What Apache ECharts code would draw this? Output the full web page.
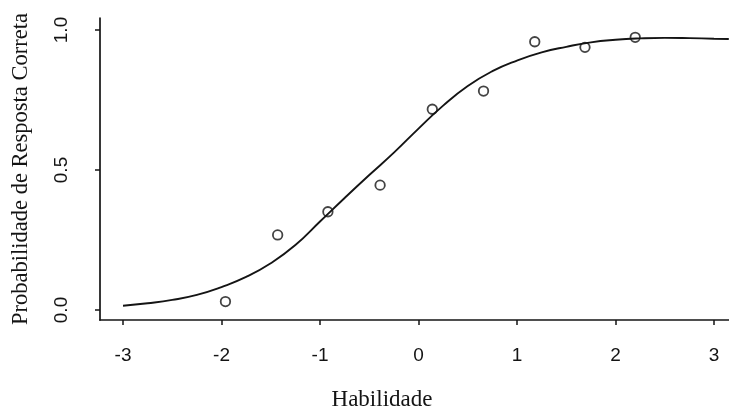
<!DOCTYPE html>
<html>
<head>
<meta charset="utf-8">
<script src="https://cdn.jsdelivr.net/npm/echarts@6/dist/echarts.min.js"></script>
<style>
html,body{margin:0;padding:0;background:#fff;}
#chart{width:729px;height:410px;}
</style>
</head>
<body>
<div id="chart"></div>
<script>
// Observed proportions (ability, proportion correct)
var obsX = [-1.96, -1.43, -0.92, -0.39, 0.14, 0.66, 1.18, 1.69, 2.20];
var obsY = [0.030, 0.268, 0.351, 0.446, 0.717, 0.782, 0.958, 0.938, 0.974];

// Fitted curve
var curveX = [-3.0, -2.75, -2.5, -2.25, -2.0, -1.75, -1.5, -1.25, -1.0, -0.75, -0.5, -0.25, 0.0, 0.25, 0.5, 0.75, 1.0, 1.25, 1.5, 1.75, 2.0, 2.25, 2.5, 2.75, 3.0, 3.15];
var curveY = [0.015, 0.024, 0.036, 0.054, 0.082, 0.118, 0.167, 0.232, 0.316, 0.400, 0.482, 0.562, 0.648, 0.730, 0.800, 0.853, 0.891, 0.920, 0.940, 0.956, 0.965, 0.970, 0.972, 0.971, 0.969, 0.968];

// Tick labels
var xTicks = [-3, -2, -1, 0, 1, 2, 3];
var yTicks = [0, 0.5, 1.0];

var xTitle = 'Habilidade';
var yTitle = 'Probabilidade de Resposta Correta';

var chart = echarts.init(document.getElementById('chart'), null, {renderer: 'canvas'});

var curveData = curveX.map(function (x, i) { return [x, curveY[i]]; });
var obsData = obsX.map(function (x, i) { return [x, obsY[i]]; });

var ink = '#141414';

chart.setOption({
  animation: false,
  backgroundColor: '#ffffff',
  grid: {left: 100, right: 0, top: 18, bottom: 90, containLabel: false, outerBoundsMode: 'none'},
  xAxis: {
    type: 'value',
    min: -3.2335,
    max: 3.152,
    name: xTitle,
    nameLocation: 'middle',
    nameGap: 68,
    nameTextStyle: {fontFamily: 'Liberation Serif', fontSize: 23, color: ink, padding: [0, 65, 0, 0]},
    axisLine: {show: true, onZero: false, lineStyle: {color: ink, width: 1.7}},
    axisTick: {show: true, length: 5, inside: false, customValues: xTicks, lineStyle: {color: ink, width: 1.5}},
    axisLabel: {show: true, customValues: xTicks, margin: 26, fontFamily: 'Liberation Sans', fontSize: 19, color: ink,
      formatter: function (v) { return String(v); }},
    splitLine: {show: false}
  },
  yAxis: {
    type: 'value',
    min: -0.0357,
    max: 1.0429,
    name: yTitle,
    nameLocation: 'middle',
    nameRotate: 90,
    nameGap: 67,
    nameTextStyle: {fontFamily: 'Liberation Serif', fontSize: 22.5, color: ink},
    axisLine: {show: true, onZero: false, lineStyle: {color: ink, width: 1.7}},
    axisTick: {show: true, length: 5, inside: false, customValues: yTicks, lineStyle: {color: ink, width: 1.5}},
    axisLabel: {show: true, customValues: yTicks, rotate: 90, margin: 29, fontFamily: 'Liberation Sans', fontSize: 19, color: ink,
      formatter: function (v) { return v.toFixed(1); }},
    splitLine: {show: false}
  },
  series: [
    {
      type: 'line',
      data: curveData,
      smooth: 0.5,
      showSymbol: false,
      symbol: 'none',
      lineStyle: {color: ink, width: 1.9},
      z: 2
    },
    {
      type: 'scatter',
      data: obsData,
      symbol: 'circle',
      symbolSize: 9.5,
      itemStyle: {color: 'rgba(255,255,255,0)', borderColor: ink, borderWidth: 1.8},
      z: 3
    }
  ]
});
</script>
</body>
</html>
